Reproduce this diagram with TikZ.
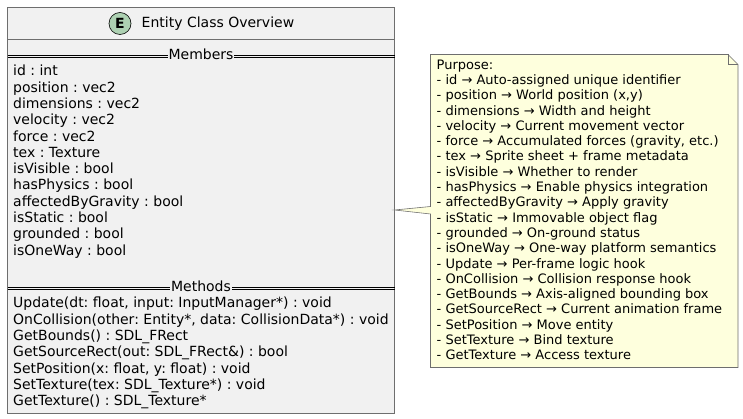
\documentclass[tikz,border=0pt]{standalone}
\usepackage{fontspec}
\setmainfont{DejaVu Sans}
\frenchspacing
\definecolor{boxfill}{HTML}{F1F1F1}
\definecolor{boxline}{HTML}{6E6E6E}
\definecolor{notefill}{HTML}{FEFFDD}
\definecolor{spotfill}{HTML}{ADD1B2}
\tikzset{
    outline/.style = {draw = boxline, line width = .6pt},
    sectionlabel/.style = {fill = boxfill, inner xsep = 1pt, inner ysep = 0pt, font = \fontsize{14}{16}\selectfont},
    memberlist/.style = {anchor = north west, align = left, inner sep = 0pt, font = \fontsize{14}{16.3}\selectfont},
    notelist/.style = {anchor = north west, align = left, inner sep = 0pt, font = \fontsize{13}{15.3}\selectfont},
}
\begin{document}
\begin{tikzpicture}[x = 1pt, y = -1pt]
    \useasboundingbox (0, 0) rectangle (743, 419);

    % class box
    \draw[outline, fill = boxfill](7.5, 7.5) rectangle (394.5, 413.5);
    \draw[outline](7.5, 39.5) to (394.5, 39.5);
    \node[circle, draw = black, line width = .6pt, fill = spotfill, minimum size = 22pt, inner sep = 0pt,
          font = \fontsize{14}{16}\selectfont\bfseries] (spot) at (120, 23.5){E};
    \node[anchor = west, inner sep = 0pt, font = \fontsize{14}{16}\selectfont] (title) at (141.5, 23.5){Entity Class Overview};

    % members
    \draw[black](7.5, 55) to (394.5, 55);
    \draw[black](7.5, 57) to (394.5, 57);
    \node[sectionlabel] (members) at (201, 54.5){Members};
    \node[memberlist] (memberlines) at (13, 65){id : int\\position : vec2\\dimensions : vec2\\velocity : vec2\\force : vec2\\tex : Texture\\isVisible : bool\\hasPhysics : bool\\affectedByGravity : bool\\isStatic : bool\\grounded : bool\\isOneWay : bool};

    % methods
    \draw[black](7.5, 287) to (394.5, 287);
    \draw[black](7.5, 289) to (394.5, 289);
    \node[sectionlabel] (methods) at (201, 286.5){Methods};
    \node[memberlist] (methodlines) at (13, 297){Update(dt: float, input: InputManager*) : void\\OnCollision(other: Entity*, data: CollisionData*) : void\\GetBounds() : SDL\_FRect\\GetSourceRect(out: SDL\_FRect\&) : bool\\SetPosition(x: float, y: float) : void\\SetTexture(tex: SDL\_Texture*) : void\\GetTexture() : SDL\_Texture*};

    % note
    \draw[outline, fill = notefill](430.5, 54.5) to (728, 54.5) to (738, 64.5) to (738, 367.5) to (430.5, 367.5)
        to (430.5, 214) to (394.5, 210) to (430.5, 206.5) to cycle;
    \draw[outline](728, 54.5) to (728, 64.5) to (738, 64.5);
    \node[notelist] (purpose) at (436.5, 59.5){Purpose:\\- id → Auto-assigned unique identifier\\- position → World position (x,y)\\- dimensions → Width and height\\- velocity → Current movement vector\\- force → Accumulated forces (gravity, etc.)\\- tex → Sprite sheet + frame metadata\\- isVisible → Whether to render\\- hasPhysics → Enable physics integration\\- affectedByGravity → Apply gravity\\- isStatic → Immovable object flag\\- grounded → On-ground status\\- isOneWay → One-way platform semantics\\- Update → Per-frame logic hook\\- OnCollision → Collision response hook\\- GetBounds → Axis-aligned bounding box\\- GetSourceRect → Current animation frame\\- SetPosition → Move entity\\- SetTexture → Bind texture\\- GetTexture → Access texture};
\end{tikzpicture}
\end{document}
